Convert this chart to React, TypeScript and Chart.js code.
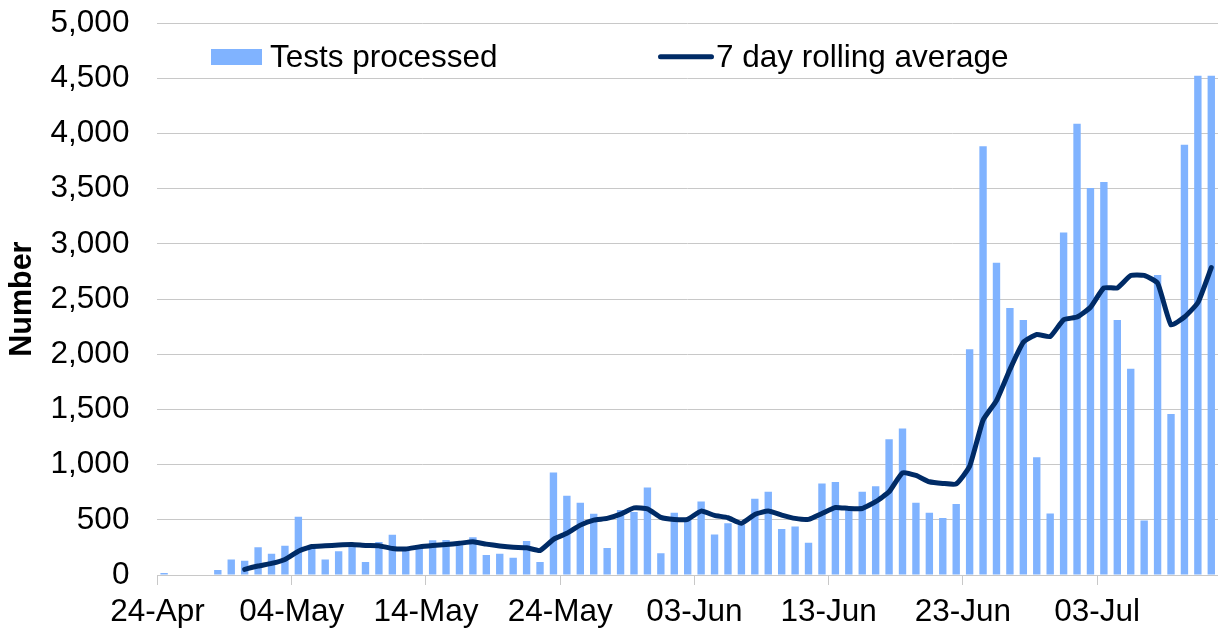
import React, { useEffect, useRef } from 'react';
import { Chart, registerables } from 'chart.js';

Chart.register(...registerables);

const dates: string[] = [
  '24-Apr', '25-Apr', '26-Apr', '27-Apr', '28-Apr', '29-Apr', '30-Apr',
  '01-May', '02-May', '03-May', '04-May', '05-May', '06-May', '07-May', '08-May', '09-May', '10-May',
  '11-May', '12-May', '13-May', '14-May', '15-May', '16-May', '17-May', '18-May', '19-May', '20-May',
  '21-May', '22-May', '23-May', '24-May', '25-May', '26-May', '27-May', '28-May', '29-May', '30-May', '31-May',
  '01-Jun', '02-Jun', '03-Jun', '04-Jun', '05-Jun', '06-Jun', '07-Jun', '08-Jun', '09-Jun', '10-Jun',
  '11-Jun', '12-Jun', '13-Jun', '14-Jun', '15-Jun', '16-Jun', '17-Jun', '18-Jun', '19-Jun', '20-Jun',
  '21-Jun', '22-Jun', '23-Jun', '24-Jun', '25-Jun', '26-Jun', '27-Jun', '28-Jun', '29-Jun', '30-Jun',
  '01-Jul', '02-Jul', '03-Jul', '04-Jul', '05-Jul', '06-Jul', '07-Jul', '08-Jul', '09-Jul', '10-Jul', '11-Jul',
];

const testsProcessed: number[] = [
  18, 0, 0, 0, 45, 141, 129,
  251, 192, 266, 527, 265, 141, 216, 265, 117, 299,
  365, 240, 250, 314, 317, 270, 341, 181, 193, 157,
  308, 118, 929, 718, 655, 555, 244, 588, 570, 793, 196,
  564, 510, 667, 368, 468, 455, 691, 754, 416, 440,
  293, 830, 842, 610, 754, 805, 1231, 1327, 655, 564,
  516, 643, 2045, 3886, 2831, 2419, 2310, 1068, 557, 3103,
  4090, 3508, 3561, 2310, 1869, 494, 2719, 1460, 3900, 4524, 4524,
];

const rollingAverage: (number | null)[] = [
  null, null, null, null, null, null, 51,
  81, 105, 141, 215, 258, 264, 272, 276, 268, 266,
  240, 236, 255, 267, 276, 287, 301, 280, 263, 251,
  247, 222, 323, 378, 452, 498, 513, 552, 608, 600, 522,
  504, 505, 579, 540, 519, 468, 549, 579, 543, 513,
  504, 558, 612, 603, 603, 664, 754, 926, 902, 845,
  830, 825, 985, 1403, 1580, 1862, 2109, 2179, 2161, 2313,
  2338, 2426, 2602, 2602, 2715, 2715, 2645, 2267, 2338, 2468, 2786,
];

const xTickLabels: string[] = ['24-Apr', '04-May', '14-May', '24-May', '03-Jun', '13-Jun', '23-Jun', '03-Jul'];

const seriesNames: string[] = ['Tests processed', '7 day rolling average'];

const FONT = "'Liberation Sans', Arial, sans-serif";
const BAR_COLOR = '#80b3ff';
const LINE_COLOR = '#002b66';
const GRID_COLOR = '#c8c8c8';

const isLabeled = (i: number) => xTickLabels.includes(dates[i]);

const legendPlugin = {
  id: 'insideLegend',
  afterDraw(chart: any) {
    const ctx = chart.ctx as CanvasRenderingContext2D;
    const ds = chart.data.datasets;
    const barDs = ds.find((d: any) => d.type === 'bar');
    const lineDs = ds.find((d: any) => d.type === 'line');
    ctx.save();
    ctx.font = `31.5px ${FONT}`;
    ctx.textBaseline = 'alphabetic';
    ctx.textAlign = 'left';
    // bar entry
    ctx.fillStyle = barDs.backgroundColor;
    ctx.fillRect(211, 49, 51, 16);
    ctx.fillStyle = '#000';
    ctx.fillText(barDs.label, 270, 66.7);
    // line entry
    ctx.strokeStyle = lineDs.borderColor;
    ctx.lineWidth = 5;
    ctx.lineCap = 'round';
    ctx.beginPath();
    ctx.moveTo(660.5, 56.7);
    ctx.lineTo(711.5, 56.7);
    ctx.stroke();
    ctx.fillText(lineDs.label, 716, 66.5);
    ctx.restore();
  },
};

export default function App() {
  const ref = useRef<HTMLCanvasElement>(null);

  useEffect(() => {
    if (!ref.current) return;
    const chart = new Chart(ref.current, {
      type: 'bar',
      data: {
        labels: dates,
        datasets: [
          {
            type: 'line',
            label: seriesNames[1],
            data: rollingAverage,
            borderColor: LINE_COLOR,
            backgroundColor: LINE_COLOR,
            borderWidth: 5,
            pointRadius: 0,
            tension: 0.15,
            borderJoinStyle: 'round',
            borderCapStyle: 'round',
            order: 0,
          } as any,
          {
            type: 'bar',
            label: seriesNames[0],
            data: testsProcessed,
            backgroundColor: BAR_COLOR,
            barPercentage: 0.55,
            categoryPercentage: 1,
            order: 1,
          } as any,
        ],
      },
      options: {
        responsive: false,
        animation: false,
        devicePixelRatio: 1,
        layout: { padding: { top: 23.3, left: 0, right: 0, bottom: 0 } },
        plugins: {
          legend: { display: false },
          tooltip: { enabled: false },
        },
        scales: {
          x: {
            type: 'category',
            offset: true,
            grid: {
              display: true,
              drawOnChartArea: false,
              drawTicks: true,
              tickLength: 10,
              offset: true,
              color: (c: any) => (isLabeled(c.index) ? GRID_COLOR : 'rgba(0,0,0,0)'),
              lineWidth: 1,
            },
            border: { display: true, color: GRID_COLOR, width: 1 },
            ticks: {
              autoSkip: false,
              maxRotation: 0,
              minRotation: 0,
              padding: 8,
              labelOffset: -6.71,
              color: '#000',
              font: { family: FONT, size: 31.5 },
              callback: (_v: any, i: number) => (isLabeled(i) ? dates[i] : ''),
            },
            afterFit: (scale: any) => {
              scale.height = 54;
              scale.paddingLeft = 0;
              scale.paddingRight = 0;
            },
          },
          y: {
            min: 0,
            max: 5000,
            grid: { color: GRID_COLOR, lineWidth: 1, drawTicks: false },
            border: { display: false },
            ticks: {
              stepSize: 500,
              padding: 28,
              color: '#000',
              font: { family: FONT, size: 31.5 },
              callback: (v: any) => Number(v).toLocaleString('en-US'),
            },
            title: {
              display: true,
              text: 'Number',
              color: '#000',
              font: { family: FONT, size: 30.5, weight: 'bold' },
              padding: { top: 4, bottom: 0 },
            },
            afterFit: (scale: any) => {
              scale.width = 157.4;
              scale.paddingTop = 0;
              scale.paddingBottom = 0;
            },
          },
        },
      },
      plugins: [legendPlugin],
    });
    return () => chart.destroy();
  }, []);

  return (
    <div style={{ position: 'fixed', left: 0, top: 0, width: 1218, height: 629, background: '#fff' }}>
      <canvas ref={ref} width={1218} height={629} style={{ display: 'block', width: 1218, height: 629 }} />
    </div>
  );
}
